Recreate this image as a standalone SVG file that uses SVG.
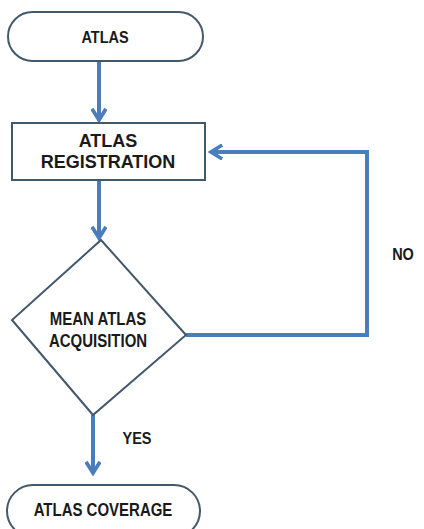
<svg xmlns="http://www.w3.org/2000/svg" width="424" height="529" viewBox="0 0 424 529">
  <style>
    .shape { fill: #ffffff; stroke: #44586c; stroke-width: 2; }
    .wire { fill: none; stroke: #4a7ebb; stroke-width: 4; }
    .label { font-family: "Liberation Sans", Arial, sans-serif; font-weight: bold; fill: #1a1a1a; text-anchor: middle; }
  </style>
  <defs>
    <marker id="head" viewBox="0 0 12 12" refX="9" refY="6" markerWidth="4.2" markerHeight="4.2" markerUnits="strokeWidth" orient="auto">
      <path d="M1,1 L9,6 L1,11" fill="none" stroke="#4a7ebb" stroke-width="2.6" stroke-linejoin="miter"/>
    </marker>
  </defs>

  <rect width="424" height="529" fill="#ffffff"/>

  <g id="connectors">
    <path class="wire" d="M99,61 V120" marker-end="url(#head)"/>
    <path class="wire" d="M99,180 V238" marker-end="url(#head)"/>
    <path class="wire" d="M186,335 H367 V152 H211" marker-end="url(#head)"/>
    <path class="wire" d="M93,415 V473" marker-end="url(#head)"/>
  </g>

  <!-- condensed-looking labels: slightly stretched vertically -->
  <g id="atlas">
    <rect class="shape" x="8" y="12" width="195" height="49" rx="24.5"/>
    <text class="label" transform="translate(105,43) scale(1,1.2)" font-size="14.5">ATLAS</text>
  </g>

  <g id="registration">
    <rect class="shape" x="12" y="123" width="193" height="57"/>
    <text class="label" x="108" y="147" font-size="18">ATLAS</text>
    <text class="label" x="108" y="168" font-size="18">REGISTRATION</text>
  </g>

  <g id="mean-atlas">
    <polygon class="shape" points="101,240 186,335 93,415 12,320"/>
    <text class="label" transform="translate(98,325) scale(1,1.2)" font-size="15">MEAN ATLAS</text>
    <text class="label" transform="translate(98,347) scale(1,1.2)" font-size="15">ACQUISITION</text>
  </g>

  <g id="decision-labels">
    <text class="label" transform="translate(403,260) scale(1,1.2)" font-size="14.5">NO</text>
    <text class="label" transform="translate(137,444) scale(1,1.2)" font-size="14.5">YES</text>
  </g>

  <g id="coverage">
    <rect class="shape" x="7" y="485" width="193" height="52" rx="26"/>
    <text class="label" transform="translate(103,516) scale(1,1.2)" font-size="15">ATLAS COVERAGE</text>
  </g>
</svg>
